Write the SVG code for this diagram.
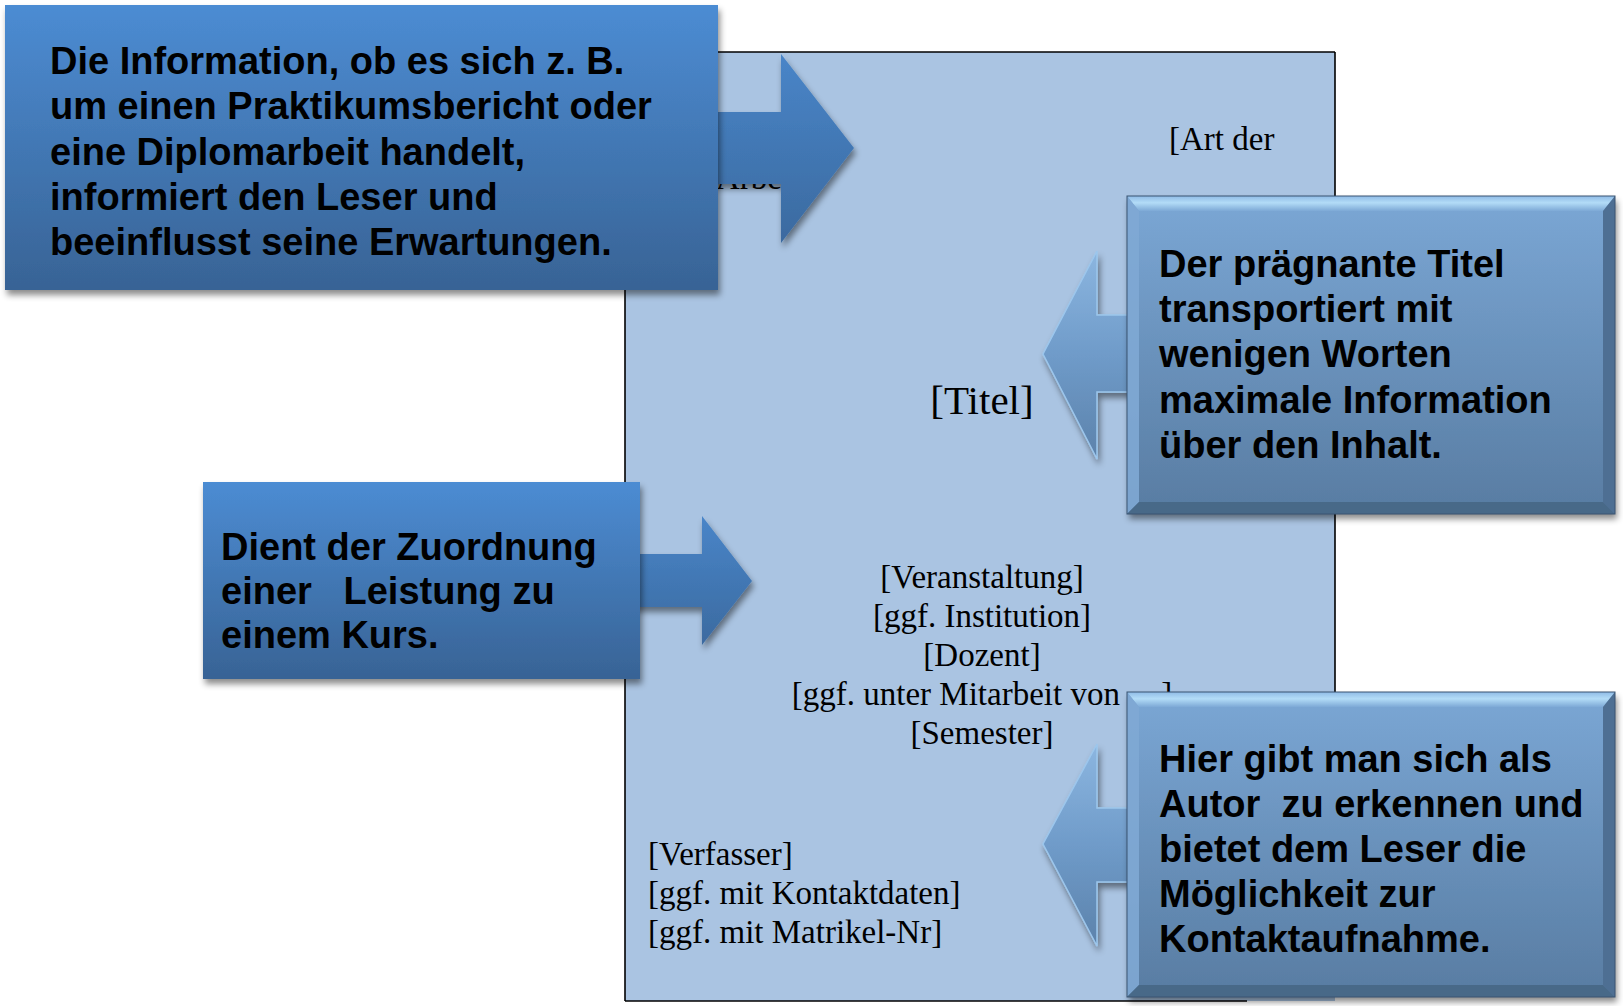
<svg xmlns="http://www.w3.org/2000/svg" width="1623" height="1006" viewBox="0 0 1623 1006">
<style>
.co{font-family:"Liberation Sans",Arial,sans-serif;font-weight:bold;font-size:38px;fill:#000}
.pg{font-family:"Liberation Serif","Times New Roman",serif;font-size:33px;fill:#000}
.big{font-size:41px}
.edge{stroke:#000;stroke-width:1.6;fill:none}
</style>
<defs>
<linearGradient id="g1" gradientUnits="userSpaceOnUse" x1="0" y1="5" x2="0" y2="290">
<stop offset="0" stop-color="#4c8cd3"/><stop offset="1" stop-color="#386395"/></linearGradient>
<linearGradient id="g3" gradientUnits="userSpaceOnUse" x1="0" y1="482" x2="0" y2="679">
<stop offset="0" stop-color="#4c8cd3"/><stop offset="1" stop-color="#386395"/></linearGradient>
<linearGradient id="gb" x1="0" y1="0" x2="0" y2="1">
<stop offset="0" stop-color="#7ba7d5"/><stop offset="1" stop-color="#587ca2"/></linearGradient>
<linearGradient id="ga" x1="0" y1="0" x2="0" y2="1">
<stop offset="0" stop-color="#8cb6e0"/><stop offset="0.5" stop-color="#6f9bc9"/><stop offset="1" stop-color="#5c82ab"/></linearGradient>
<linearGradient id="gt" x1="0" y1="0" x2="0" y2="1">
<stop offset="0" stop-color="#8fbbe6"/><stop offset="0.45" stop-color="#b3dcf7"/><stop offset="1" stop-color="#7da9d6"/></linearGradient>
<filter id="sh" x="-5%" y="-5%" width="112%" height="115%">
<feDropShadow dx="2" dy="5" stdDeviation="3" flood-color="#000" flood-opacity="0.45"/></filter>
</defs>

<g id="page">
<rect x="625" y="52" width="710" height="949" fill="#aac4e2"/>
<line class="edge" x1="625" y1="52" x2="1335" y2="52"/>
<line class="edge" x1="625" y1="52" x2="625" y2="1001"/>
<line class="edge" x1="1335" y1="52" x2="1335" y2="997"/>
<line class="edge" x1="625" y1="1001" x2="1247" y2="1001"/>
<text class="pg" x="1169" y="150">[Art der</text>
<text class="pg" x="716" y="189">Arbeit]</text>
<text class="pg big" x="982" y="414" text-anchor="middle">[Titel]</text>
<text class="pg" x="982" y="588" text-anchor="middle">[Veranstaltung]</text>
<text class="pg" x="982" y="627" text-anchor="middle">[ggf. Institution]</text>
<text class="pg" x="982" y="666" text-anchor="middle">[Dozent]</text>
<text class="pg" x="982" y="705" text-anchor="middle">[ggf. unter Mitarbeit von …]</text>
<text class="pg" x="982" y="744" text-anchor="middle">[Semester]</text>
<text class="pg" x="648" y="865">[Verfasser]</text>
<text class="pg" x="648" y="904">[ggf. mit Kontaktdaten]</text>
<text class="pg" x="648" y="943">[ggf. mit Matrikel-Nr]</text>
</g>

<g id="connectors">
<path d="M712,112 H781 V54 L854,148 L781,243 V184 H712 Z" fill="url(#g1)" filter="url(#sh)"/>
<path d="M634,554 H702 V516 L752,581 L702,645 V607 H634 Z" fill="url(#g3)" filter="url(#sh)"/>
<path d="M1133,315 H1097 V251 L1043,354 L1097,459 V392 H1133 Z" fill="url(#ga)" stroke="#9cc6ec" stroke-width="1.5" filter="url(#sh)"/>
<path d="M1133,808 H1097 V744 L1043,844 L1097,946 V882 H1133 Z" fill="url(#ga)" stroke="#9cc6ec" stroke-width="1.5" filter="url(#sh)"/>
</g>

<g id="node-art">
<rect x="5" y="5" width="713" height="285" fill="url(#g1)" filter="url(#sh)"/>
<text class="co" x="50" y="74">Die Information, ob es sich z. B.</text>
<text class="co" x="50" y="119">um einen Praktikumsbericht oder</text>
<text class="co" x="50" y="165">eine Diplomarbeit handelt,</text>
<text class="co" x="50" y="210">informiert den Leser und</text>
<text class="co" x="50" y="255">beeinflusst seine Erwartungen.</text>
</g>

<g id="node-titel">
<rect x="1127" y="196" width="488" height="318" fill="url(#gb)" filter="url(#sh)"/>
<polygon points="1127,196 1615,196 1603,211 1139,211" fill="url(#gt)"/>
<polygon points="1127,196 1139,211 1139,502 1127,514" fill="#7fa9d4" opacity="0.9"/>
<polygon points="1615,196 1603,211 1603,502 1615,514" fill="#4e6f93"/>
<polygon points="1127,514 1139,502 1603,502 1615,514" fill="#486988"/>
<rect x="1127" y="196" width="488" height="318" fill="none" stroke="#3a5572" stroke-width="1"/>
<text class="co" x="1159" y="277">Der prägnante Titel</text>
<text class="co" x="1159" y="322">transportiert mit</text>
<text class="co" x="1159" y="367">wenigen Worten</text>
<text class="co" x="1159" y="413">maximale Information</text>
<text class="co" x="1159" y="458">über den Inhalt.</text>
</g>

<g id="node-kurs">
<rect x="203" y="482" width="437" height="197" fill="url(#g3)" filter="url(#sh)"/>
<text class="co" x="221" y="560">Dient der Zuordnung</text>
<text class="co" x="221" y="604" xml:space="preserve">einer   Leistung zu</text>
<text class="co" x="221" y="648">einem Kurs.</text>
</g>

<g id="node-autor">
<rect x="1127" y="692" width="488" height="305" fill="url(#gb)" filter="url(#sh)"/>
<polygon points="1127,692 1615,692 1603,707 1139,707" fill="url(#gt)"/>
<polygon points="1127,692 1139,707 1139,985 1127,997" fill="#7fa9d4" opacity="0.9"/>
<polygon points="1615,692 1603,707 1603,985 1615,997" fill="#4e6f93"/>
<polygon points="1127,997 1139,985 1603,985 1615,997" fill="#486988"/>
<rect x="1127" y="692" width="488" height="305" fill="none" stroke="#3a5572" stroke-width="1"/>
<text class="co" x="1159" y="772">Hier gibt man sich als</text>
<text class="co" x="1159" y="817" xml:space="preserve">Autor  zu erkennen und</text>
<text class="co" x="1159" y="862">bietet dem Leser die</text>
<text class="co" x="1159" y="907">Möglichkeit zur</text>
<text class="co" x="1159" y="952">Kontaktaufnahme.</text>
</g>
</svg>
